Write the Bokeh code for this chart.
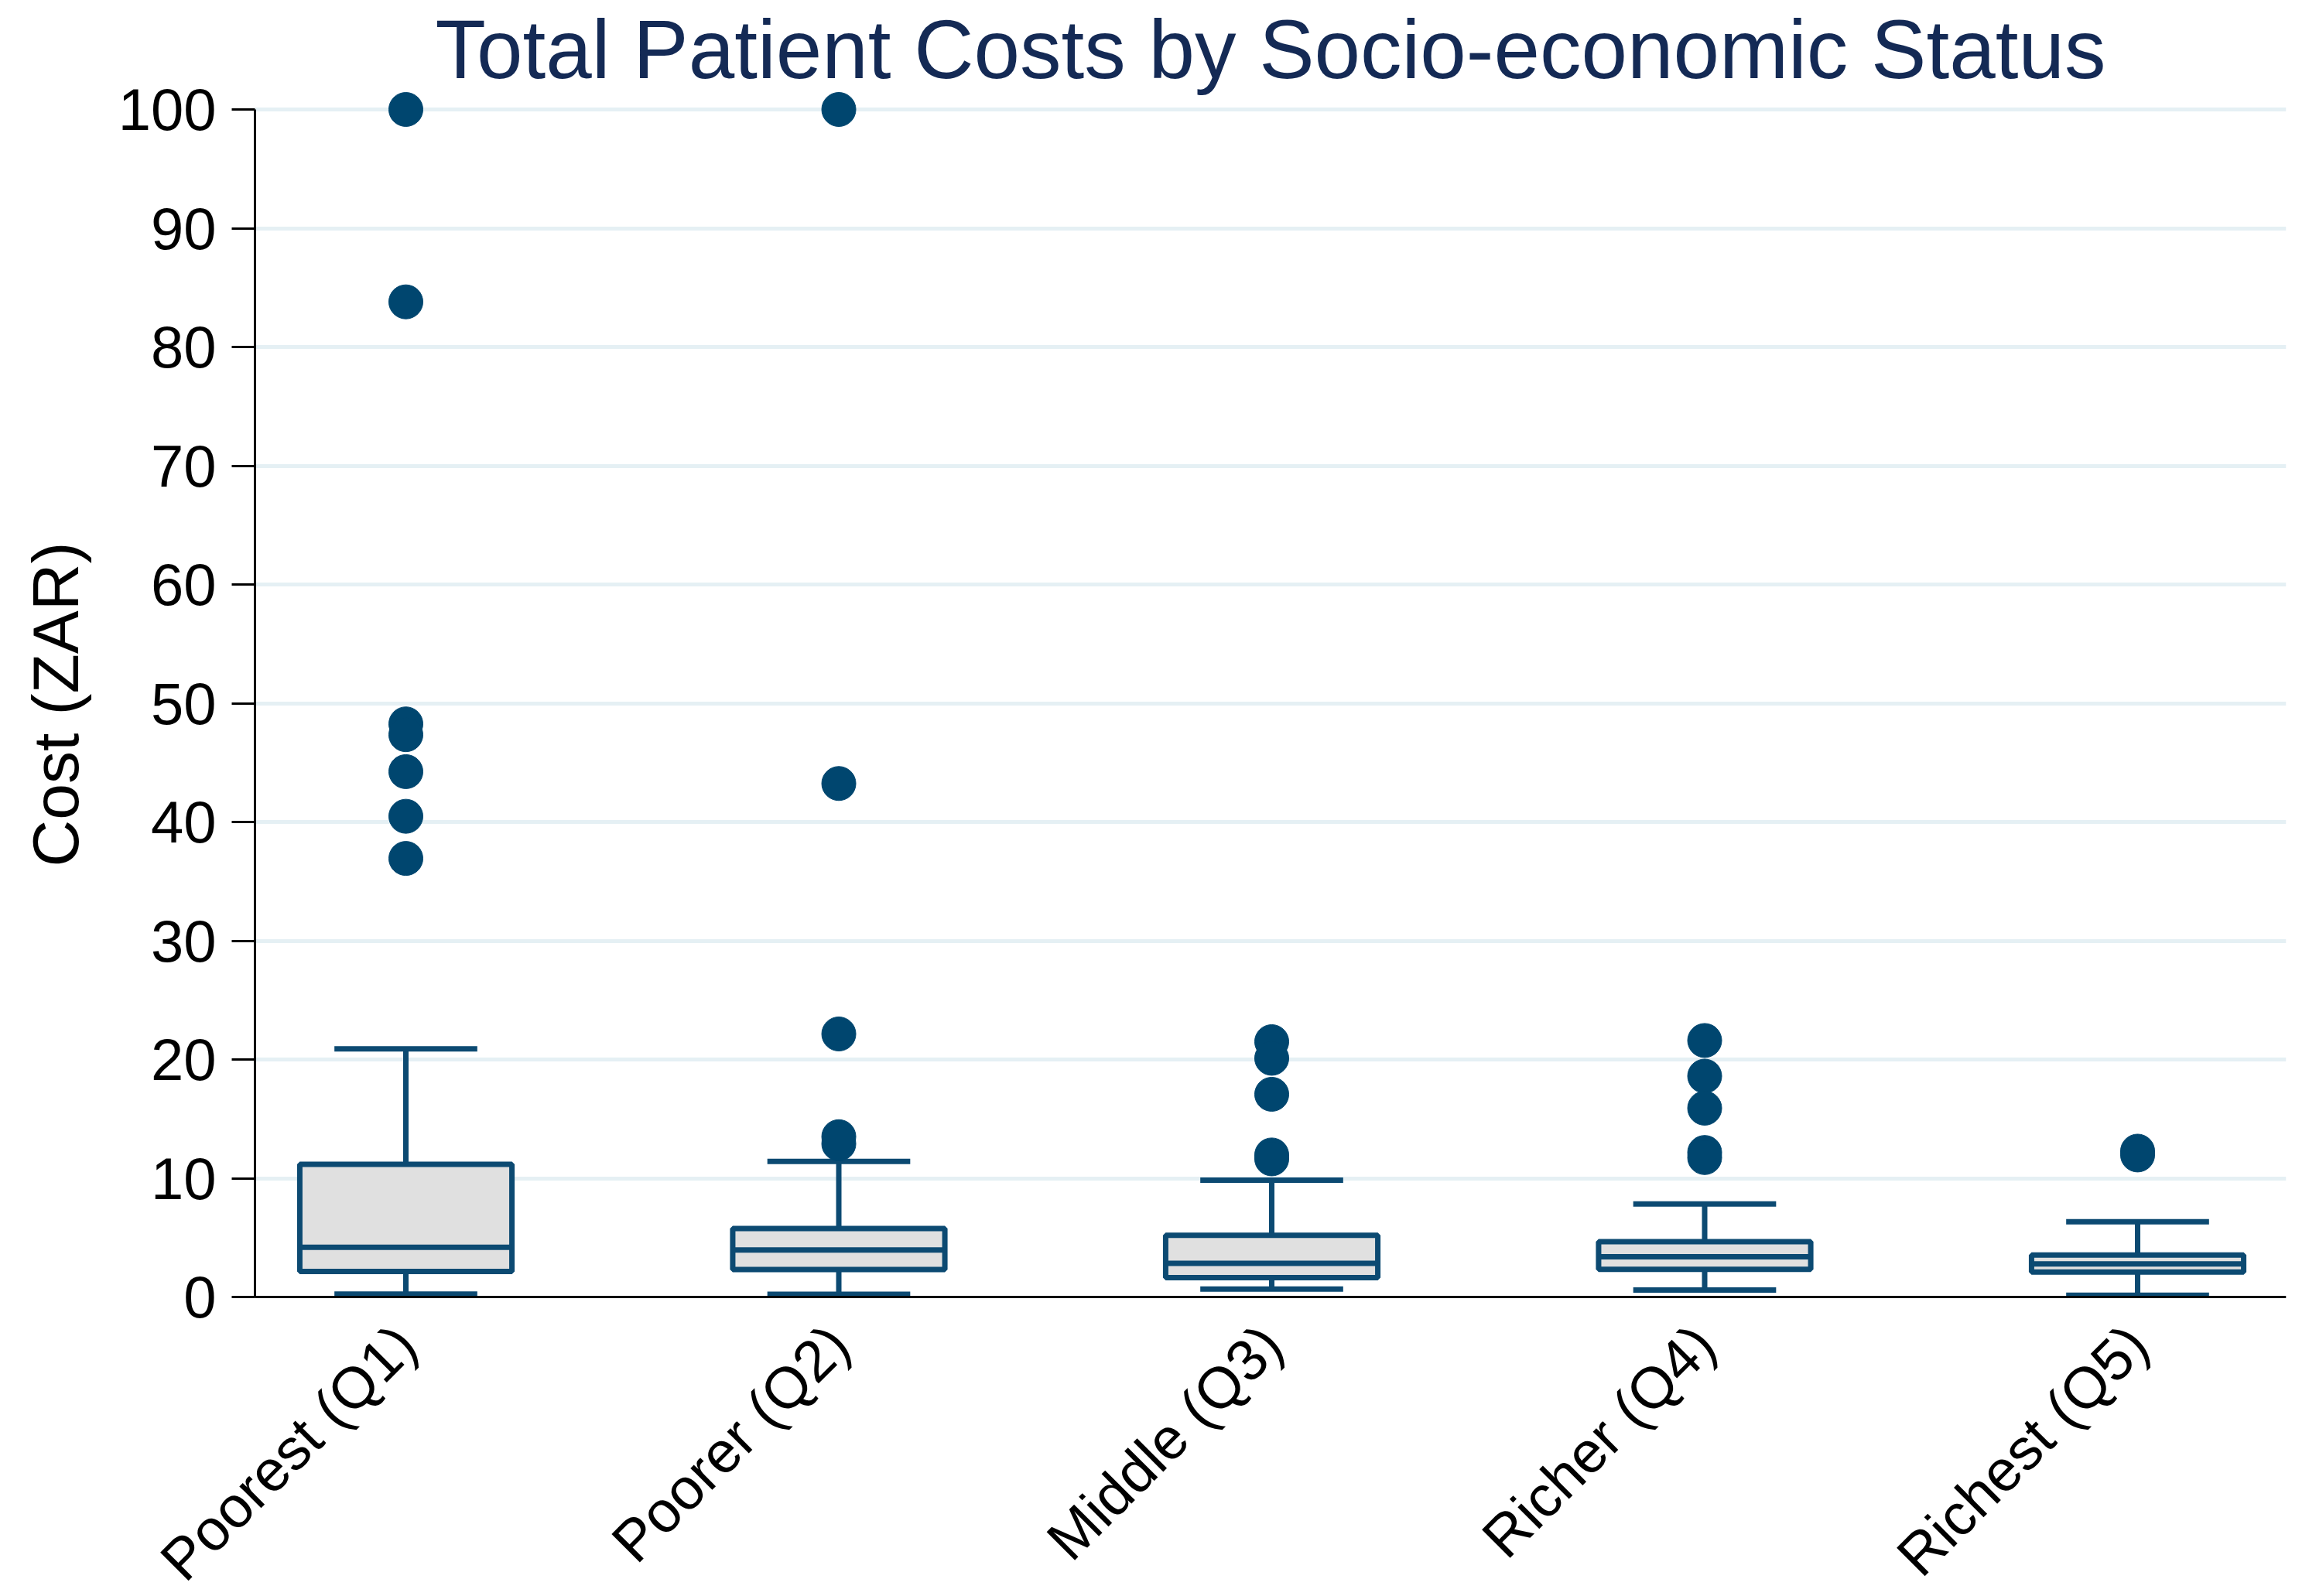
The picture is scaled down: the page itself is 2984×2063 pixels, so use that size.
import math
from bokeh.plotting import figure
from bokeh.models import FixedTicker, Range1d, ColumnDataSource, LinearAxis, Grid
from bokeh.core.properties import value
from bokeh.embed import file_html
from bokeh.resources import INLINE

# ---------------- data ----------------
categories = ["Poorest (Q1)", "Poorer (Q2)", "Middle (Q3)", "Richer (Q4)", "Richest (Q5)"]
lower_whisker = [0.25, 0.23, 0.67, 0.59, 0.15]
q1_values = [2.15, 2.31, 1.63, 2.33, 2.10]
medians = [4.18, 3.96, 2.83, 3.39, 2.78]
q3_values = [11.17, 5.76, 5.20, 4.65, 3.54]
upper_whisker = [20.9, 11.42, 9.83, 7.83, 6.33]
outliers = [
    [100.0, 83.8, 48.26, 47.35, 44.24, 40.48, 36.93],
    [100.0, 43.24, 22.15, 13.5, 12.9],
    [21.5, 20.1, 17.07, 11.96, 11.63],
    [21.6, 18.6, 15.9, 12.17, 11.74],
    [12.28, 11.96],
]
y_ticks = [0, 10, 20, 30, 40, 50, 60, 70, 80, 90, 100]
title_text = "Total Patient Costs by Socio-economic Status"
y_label = "Cost (ZAR)"

# ---------------- styling / layout (pixels) ----------------
LINE = "#0c4a72"
DOT = "#00466f"
FILL = "#e0e0e0"
GRID = "#e5f0f4"
FONT = "Liberation Sans"
BOX_W = 0.49
CAP_W = 0.33
W, H = 2968, 2063
ZERO_PX = 1676          # row of the zero line
TOP_PX = 141            # row of the 100 line
PX_PER_Y = (ZERO_PX - TOP_PX) / 100.0
PX_PER_X = 559.5        # pixels per category step
FIRST_PX = 524          # column of the first category
AXIS_PX = 329           # column of the y axis line
RIGHT_PX = 2954         # right end of the plotting area
TITLE_ANCHOR_PX = 63    # row used to anchor the title text
YLABEL_X_PX, YLABEL_Y_PX = 71, 910

X_START = 1 - FIRST_PX / PX_PER_X
X_END = X_START + RIGHT_PX / PX_PER_X
X_AXIS = X_START + AXIS_PX / PX_PER_X
Y_END = 100 + TOP_PX / PX_PER_Y
Y_START = -(H - ZERO_PX) / PX_PER_Y

xs = list(range(1, len(categories) + 1))

p = figure(
    width=W, height=H,
    x_range=Range1d(X_START, X_END), y_range=Range1d(Y_START, Y_END),
    x_axis_location=None, y_axis_location=None,
    output_backend="svg", toolbar_location=None,
    min_border_left=0, min_border_right=W - RIGHT_PX, min_border_bottom=0, min_border_top=0,
)
p.outline_line_color = None
p.background_fill_color = "white"
p.border_fill_color = "white"

# y axis, pinned at its place inside the plotting area
ya = LinearAxis(fixed_location=X_AXIS)
ya.ticker = FixedTicker(ticks=y_ticks)
ya.bounds = (0, 100)
ya.axis_line_color = "black"
ya.axis_line_width = 3
ya.major_tick_line_color = "black"
ya.major_tick_line_width = 3
ya.major_tick_out = 30
ya.major_tick_in = 0
ya.minor_tick_line_color = None
ya.major_label_text_font = FONT
ya.major_label_text_font_size = "76px"
ya.major_label_text_color = "black"
ya.major_label_standoff = 20
p.add_layout(ya, "left")

# x axis line at zero (no ticks, labels drawn separately)
xa = LinearAxis(fixed_location=0)
xa.bounds = (X_AXIS, X_END)
xa.ticker = FixedTicker(ticks=[])
xa.axis_line_color = "black"
xa.axis_line_width = 3
xa.major_tick_line_color = None
xa.minor_tick_line_color = None
xa.major_label_text_font_size = "0px"
p.add_layout(xa, "below")

# horizontal grid lines starting at the y axis
p.xgrid.visible = False
p.ygrid.visible = False
grid = Grid(dimension=1, ticker=FixedTicker(ticks=y_ticks[1:]),
            grid_line_color=GRID, grid_line_width=5)
try:
    grid.cross_bounds = (X_AXIS, X_END)
except Exception:
    pass
p.add_layout(grid, "center")

# category labels, rotated 45 degrees, hanging below the zero line
p.text(x=xs, y=[0] * len(xs), text=categories, angle=math.pi / 4,
       text_align="right", text_baseline="middle", y_offset=49,
       text_font=value(FONT), text_font_size=value("75px"), text_color="black")

# y axis title
p.text(x=[X_START + YLABEL_X_PX / PX_PER_X], y=[(ZERO_PX - YLABEL_Y_PX) / PX_PER_Y],
       text=[y_label], angle=math.pi / 2, text_align="center", text_baseline="middle",
       text_font=value(FONT), text_font_size=value("84px"), text_color="black")

# boxes
src = ColumnDataSource(dict(
    x=xs, lo=lower_whisker, q1=q1_values, med=medians, q3=q3_values, hi=upper_whisker,
    bl=[x - BOX_W / 2 for x in xs], br=[x + BOX_W / 2 for x in xs],
    cl=[x - CAP_W / 2 for x in xs], cr=[x + CAP_W / 2 for x in xs],
))

LW = 7
p.segment(x0="x", y0="q3", x1="x", y1="hi", source=src, line_color=LINE, line_width=LW)
p.segment(x0="x", y0="lo", x1="x", y1="q1", source=src, line_color=LINE, line_width=LW)
p.vbar(x="x", width=BOX_W, bottom="q1", top="q3", source=src,
       fill_color=FILL, line_color=LINE, line_width=LW)
p.segment(x0="bl", y0="med", x1="br", y1="med", source=src, line_color=LINE, line_width=LW)
p.segment(x0="cl", y0="hi", x1="cr", y1="hi", source=src, line_color=LINE, line_width=LW)
p.segment(x0="cl", y0="lo", x1="cr", y1="lo", source=src, line_color=LINE, line_width=LW)

ox, oy = [], []
for x, vals in zip(xs, outliers):
    for v in vals:
        ox.append(x)
        oy.append(v)
p.scatter(ox, oy, size=44, marker="circle", fill_color=DOT, line_color=DOT)

# main title, centred over the plotting area
p.text(x=[(X_AXIS + X_END) / 2], y=[100 + (TOP_PX - TITLE_ANCHOR_PX) / PX_PER_Y],
       text=[title_text], text_align="center", text_baseline="alphabetic",
       text_font=value(FONT), text_font_size=value("107px"), text_color="#142a55")

open("out.html", "w").write(file_html(p, INLINE))
